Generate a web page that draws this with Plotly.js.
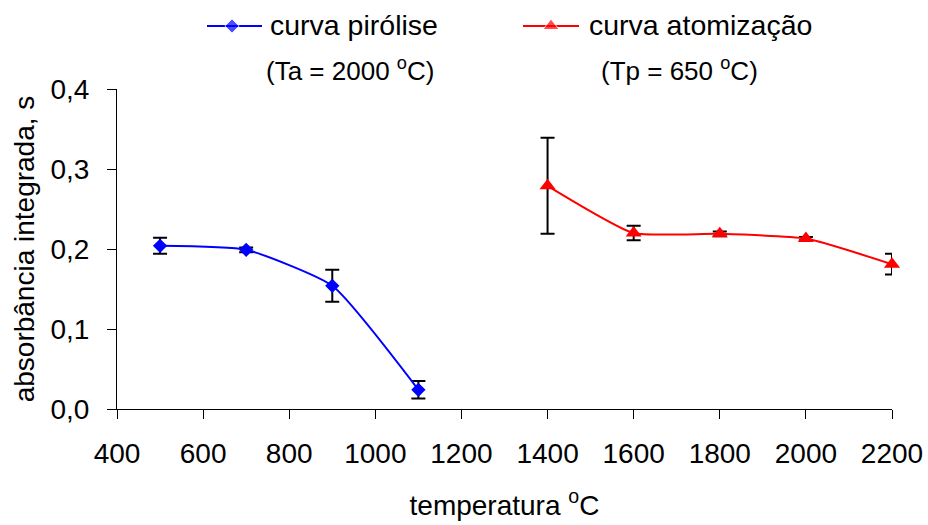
<!DOCTYPE html>
<html>
<head>
<meta charset="utf-8">
<script src="https://cdn.plot.ly/plotly-3.0.1.min.js"></script>
<style>
  html, body { margin: 0; padding: 0; background: #fff; }
  #chart { width: 928px; height: 525px; }
</style>
</head>
<body>
<div id="chart"></div>
<script>
// Pyrolysis curve (atomisation fixed at 2000 °C)
const tempPirolise = [500, 700, 900, 1100];
const absPirolise  = [0.204, 0.199, 0.154, 0.024];
const errPirolise  = [0.010, 0.003, 0.020, 0.011];

// Atomisation curve (pyrolysis fixed at 650 °C)
const tempAtomizacao = [1400, 1600, 1800, 2000, 2200];
const absAtomizacao  = [0.279, 0.220, 0.219, 0.213, 0.181];
const errAtomizacao  = [0.060, 0.009, 0.003, 0.002, 0.013];

// Axis ticks
const xTicks = [400, 600, 800, 1000, 1200, 1400, 1600, 1800, 2000, 2200];
const yTicks = [0, 0.1, 0.2, 0.3, 0.4];

const W = 928, H = 525;
const FONT = 'Arial, "Liberation Sans", sans-serif';
const BLUE = 'rgb(0,0,255)';
const RED = 'rgb(255,0,0)';
const DIAMOND_SIZE = 11;
const TRIANGLE_SIZE = 14;

// Figure-pixel helpers (margins are zero, so paper == whole figure)
const px = x => x / W;
const py = y => 1 - y / H;

const errStyle = arr => ({
  type: 'data', array: arr, visible: true,
  color: 'black', thickness: 2, width: 7
});

const traces = [
  {
    x: tempPirolise, y: absPirolise, type: 'scatter', mode: 'lines+markers',
    name: 'curva pirólise', cliponaxis: false,
    line: { color: BLUE, width: 2, shape: 'spline', smoothing: 0.5 },
    marker: { symbol: 'diamond', size: DIAMOND_SIZE, color: BLUE },
    error_y: errStyle(errPirolise),
    showlegend: false
  },
  {
    x: tempAtomizacao, y: absAtomizacao, type: 'scatter', mode: 'lines+markers',
    name: 'curva atomização', cliponaxis: false,
    line: { color: RED, width: 2, shape: 'spline', smoothing: 0.5 },
    marker: { symbol: 'triangle-up', size: TRIANGLE_SIZE, color: RED },
    error_y: errStyle(errAtomizacao),
    showlegend: false
  },
  // legend keys, drawn on a full-figure pixel-space subplot
  {
    x: [207, 232, 262], y: [26, 26, 26], xaxis: 'x2', yaxis: 'y2',
    type: 'scatter', mode: 'lines+markers', hoverinfo: 'skip', showlegend: false,
    cliponaxis: false,
    line: { color: BLUE, width: 2 },
    marker: { symbol: 'diamond', size: [0, DIAMOND_SIZE, 0], color: BLUE }
  },
  {
    x: [523, 551, 579], y: [26, 26, 26], xaxis: 'x2', yaxis: 'y2',
    type: 'scatter', mode: 'lines+markers', hoverinfo: 'skip', showlegend: false,
    cliponaxis: false,
    line: { color: RED, width: 2 },
    marker: { symbol: 'triangle-up', size: [0, TRIANGLE_SIZE, 0], color: RED }
  }
];

const layout = {
  width: W, height: H,
  margin: { l: 0, r: 0, t: 0, b: 0 },
  paper_bgcolor: 'white', plot_bgcolor: 'rgba(0,0,0,0)',
  separators: ', ',
  showlegend: false,
  font: { family: FONT, size: 28, color: 'black' },
  xaxis: {
    domain: [px(117), px(892)],
    range: [400, 2200],
    tickmode: 'array', tickvals: xTicks,
    showgrid: false, zeroline: false,
    showline: true, linecolor: 'black', linewidth: 1,
    ticks: 'outside', ticklen: 9, tickwidth: 1, tickcolor: 'black',
    ticklabelstandoff: 10,
    tickfont: { family: FONT, size: 28, color: 'black' },
    title: { text: 'temperatura <sup>o</sup>C', font: { family: FONT, size: 28 }, standoff: 27 },
    automargin: false
  },
  yaxis: {
    domain: [py(409), py(89)],
    range: [0, 0.4],
    tickmode: 'array', tickvals: yTicks, tickformat: '.1f',
    showgrid: false, zeroline: false,
    showline: true, linecolor: 'black', linewidth: 1,
    ticks: 'outside', ticklen: 9, tickwidth: 1, tickcolor: 'black',
    ticklabelstandoff: 12,
    tickfont: { family: FONT, size: 28, color: 'black' },
    title: { text: 'absorbância integrada, s', font: { family: FONT, size: 28 }, standoff: 7 },
    automargin: false
  },
  xaxis2: {
    domain: [0, 1], range: [0, W], anchor: 'y2',
    visible: false, fixedrange: true
  },
  yaxis2: {
    domain: [0, 1], range: [H, 0], anchor: 'x2',
    visible: false, fixedrange: true
  },
  annotations: [
    { text: 'curva pirólise', x: px(268), y: py(25), xref: 'paper', yref: 'paper',
      xanchor: 'left', yanchor: 'middle', showarrow: false, font: { family: FONT, size: 28.5 } },
    { text: 'curva atomização', x: px(587), y: py(25), xref: 'paper', yref: 'paper',
      xanchor: 'left', yanchor: 'middle', showarrow: false, font: { family: FONT, size: 28.5 } },
    { text: '(Ta = 2000 <sup>o</sup>C)', x: px(350), y: py(69), xref: 'paper', yref: 'paper',
      xanchor: 'center', yanchor: 'middle', showarrow: false, font: { family: FONT, size: 26 } },
    { text: '(Tp = 650 <sup>o</sup>C)', x: px(679), y: py(69), xref: 'paper', yref: 'paper',
      xanchor: 'center', yanchor: 'middle', showarrow: false, font: { family: FONT, size: 26 } }
  ]
};

Plotly.newPlot('chart', traces, layout, { staticPlot: true, displayModeBar: false });
</script>
</body>
</html>
